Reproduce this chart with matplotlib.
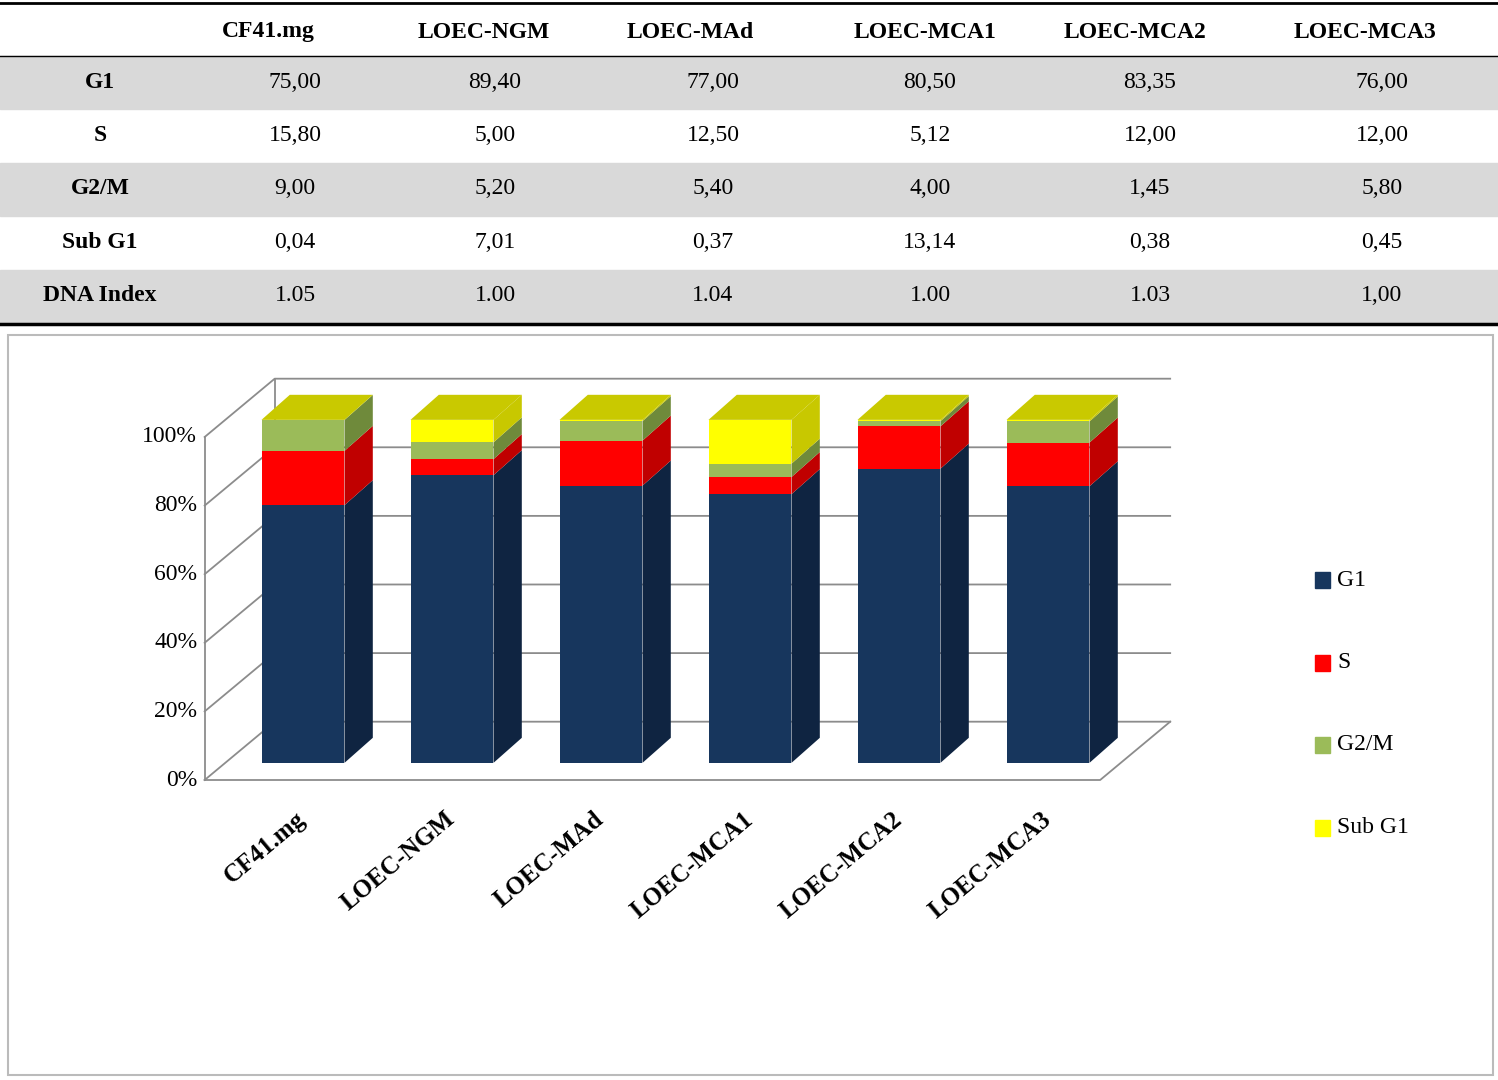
import matplotlib
matplotlib.use("Agg")
import matplotlib.pyplot as plt
from matplotlib.patches import Polygon, Rectangle

categories = ["CF41.mg", "LOEC-NGM", "LOEC-MAd", "LOEC-MCA1", "LOEC-MCA2", "LOEC-MCA3"]
series_names = ["G1", "S", "G2/M", "Sub G1"]
g1 = [75.00, 89.40, 77.00, 80.50, 83.35, 76.00]
s = [15.80, 5.00, 12.50, 5.12, 12.00, 12.00]
g2m = [9.00, 5.20, 5.40, 4.00, 1.45, 5.80]
subg1 = [0.04, 7.01, 0.37, 13.14, 0.38, 0.45]
table_rows = ["G1", "S", "G2/M", "Sub G1", "DNA Index"]
table_text = [
    ["75,00", "89,40", "77,00", "80,50", "83,35", "76,00"],
    ["15,80", "5,00", "12,50", "5,12", "12,00", "12,00"],
    ["9,00", "5,20", "5,40", "4,00", "1,45", "5,80"],
    ["0,04", "7,01", "0,37", "13,14", "0,38", "0,45"],
    ["1.05", "1.00", "1.04", "1.00", "1.03", "1,00"],
]
yticks = [0, 20, 40, 60, 80, 100]

front = ["#17365d", "#ff0000", "#9bbb59", "#ffff00"]
side = ["#0f2441", "#c00000", "#6f8a3b", "#c8c800"]
top = ["#243f66", "#e04040", "#8aa64c", "#c9c900"]

W, H = 1498, 1080
fig = plt.figure(figsize=(W / 100, H / 100), dpi=100)
ax = fig.add_axes([0, 0, 1, 1])
ax.set_xlim(-303 / 149, (W - 303) / 149)
ax.set_ylim((780 - H) / 3.43, 780 / 3.43)
ax.axis("off")
serif = "Liberation Serif"

def fx(px):
    return px / W

def fy(py):
    return 1 - py / H

# ---- table ----
for i, ri in enumerate([0, 2, 4]):
    y0 = 56 + ri * 53.4
    fig.patches.append(Rectangle((0, fy(y0 + 53.4)), 1, 53.4 / H, transform=fig.transFigure,
                                 color="#d9d9d9", zorder=0))
fig.add_artist(plt.Line2D([0, 1], [fy(3), fy(3)], color="black", lw=2))
fig.add_artist(plt.Line2D([0, 1], [fy(56), fy(56)], color="black", lw=1))
fig.add_artist(plt.Line2D([0, 1], [fy(324), fy(324)], color="black", lw=2.5))
hx = [268, 484, 690, 925, 1135, 1365]
vx = [295, 495, 713, 930, 1150, 1382]
for c, x in zip(categories, hx):
    fig.text(fx(x), fy(32), c, ha="center", va="center", fontsize=17, fontweight="bold", family=serif)
for r, name in enumerate(table_rows):
    yy = fy(82 + r * 53.4)
    fig.text(fx(100), yy, name, ha="center", va="center", fontsize=17, fontweight="bold", family=serif)
    for x, t in zip(vx, table_text[r]):
        fig.text(fx(x), yy, t, ha="center", va="center", fontsize=17, family=serif)

# ---- chart panel border ----
fig.patches.append(Rectangle((fx(8), fy(1075)), fx(1485), 740 / H, transform=fig.transFigure,
                             fill=False, ec="#bbbbbb", lw=1.5))

# ---- 3D frame ----
xl, xr, xb = -0.66, 5.35, 5.82
wdx, wdy = 0.47, 17
gc = "#8c8c8c"
for p in yticks:
    ax.plot([xl, xl + wdx, xb], [p, p + wdy, p + wdy], color=gc, lw=1.3)
    ax.text(xl - 0.05, p, f"{p}%", ha="right", va="center", fontsize=17, family=serif)
ax.plot([xl, xl], [0, 100], color=gc, lw=1.3)
ax.plot([xl + wdx, xl + wdx], [wdy, 100 + wdy], color=gc, lw=1.3)
ax.plot([xl, xr, xb], [0, 0, wdy], color=gc, lw=1.3)

# ---- bars ----
bw, bx, by, bdx, bdy = 0.557, 0.0, 5, 0.19, 7.3
data = [g1, s, g2m, subg1]
for i in range(len(categories)):
    tot = sum(d[i] for d in data)
    cum = by
    x0, x1 = i - bw / 2, i + bw / 2
    last = 0
    for k, d in enumerate(data):
        h = d[i] / tot * 100
        ax.bar(i, h, width=bw, bottom=cum, color=front[k], lw=0, zorder=3)
        ax.add_patch(Polygon([(x1, cum), (x1 + bdx, cum + bdy), (x1 + bdx, cum + h + bdy), (x1, cum + h)],
                             color=side[k], lw=0, zorder=3))
        cum += h
        last = k
    ax.add_patch(Polygon([(x0, cum), (x0 + bdx, cum + bdy), (x1 + bdx, cum + bdy), (x1, cum)],
                         color=top[last], lw=0, zorder=3))
    ax.text(i - 0.05, -8, categories[i], rotation=40, ha="right", va="top", rotation_mode="anchor",
            fontsize=18, fontweight="bold", family=serif)

# ---- legend ----
for k, name in enumerate(series_names):
    yy = 580 + k * 82.5
    fig.patches.append(Rectangle((fx(1315), fy(yy + 8)), 15 / W, 16 / H, transform=fig.transFigure,
                                 color=front[k]))
    fig.text(fx(1337), fy(yy), name, ha="left", va="center", fontsize=17, family=serif)

fig.savefig("out.png", dpi=100)
